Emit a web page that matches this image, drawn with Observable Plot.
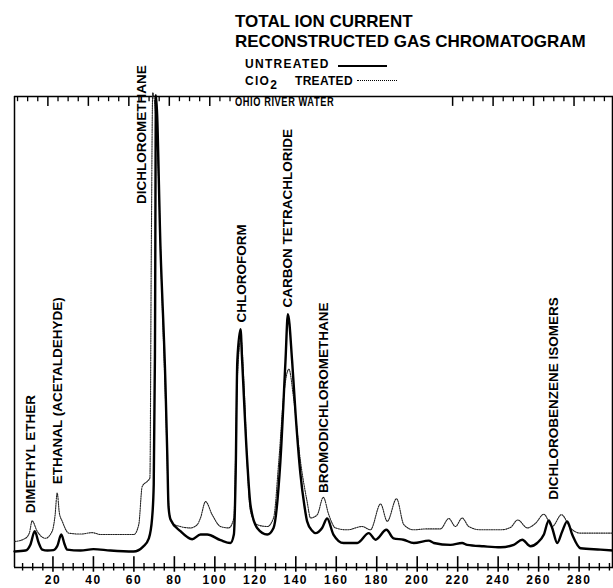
<!DOCTYPE html>
<html><head><meta charset="utf-8">
<script src="https://cdn.jsdelivr.net/npm/d3@7"></script>
<script src="https://cdn.jsdelivr.net/npm/@observablehq/plot@0.6"></script>
<style>
html,body{margin:0;padding:0;background:#fff;}
#wrap{position:relative;width:613px;height:588px;overflow:hidden;font-family:"Liberation Sans",Arial,sans-serif;font-weight:bold;color:#000;}
#wrap svg{position:absolute;left:0;top:0;}
.t{position:absolute;white-space:nowrap;line-height:1;z-index:2;}
.sw{position:absolute;z-index:2;}
.xt text{letter-spacing:1.5px;}
</style></head>
<body>
<div id="wrap"></div>
<script>
// ---- data (scan number vs. total ion current, % of full scale) ----
const untreatedScan   = [1,6.4,8.9,11.0,12.9,14.7,17.3,20.3,22.2,24.1,25.7,27.0,33.6,40.0,48.4,59.8,64.7,67.4,69.0,69.8,70.4,70.9,73.2,75.6,76.5,77.1,78.1,83.0,88.8,92.9,96.2,102.8,107.7,109.4,110.3,111.1,112.7,113.5,116.0,117.6,120.9,125.9,129.0,132.4,134.9,136.1,138.2,139.9,142.3,144.3,145.6,148.1,149.7,153.0,155.5,158.6,163.6,170.4,176.1,179.4,184.8,188.3,193.2,198.3,205.7,208.2,216.5,222.2,224.7,232.9,241.2,247.7,251.9,256.0,259.3,262.6,265.0,266.7,269.2,271.7,274.1,276.6,280.7,290.6,297];
const untreatedSignal = [3.4,3.6,4.9,7.7,5.3,3.8,3.6,3.7,4.6,7.0,5.0,3.8,3.6,3.9,3.6,3.4,4.5,6.2,10.5,17.6,45,100.3,67,38.9,24,13,10.2,7.7,6.0,7.0,7.0,5.8,5.2,7.0,20,43.8,50.6,43.8,22.6,13.3,8.4,7.0,8.4,22.6,43.8,53.8,43.8,32.6,19.8,13,9.8,7.8,7.3,8.4,10.4,7.0,5.2,5.2,7.3,5.9,8.0,6.2,5.9,5.2,5.7,5.2,4.8,5.2,4.8,4.5,4.3,4.8,5.9,4.5,5.2,7.0,10.0,8.4,5.2,7.7,9.8,7.0,4.1,3.8,3.6];

const treatedScan   = [1,6.4,8.4,9.7,12.2,16.3,19.6,21.0,22.1,23.2,24.6,27.8,33.6,39.4,43.5,60.0,62.4,64.1,66.6,67.9,68.6,69.3,71.5,74.0,75.8,77.0,77.8,78.9,83.0,88.0,91.3,92.9,95.4,98.7,102.8,106.9,109.4,111.1,112.9,114.5,116.0,117.6,120.9,125.9,129.0,131.6,134.1,136.6,138.9,142.3,145.6,147.3,150.6,153.6,156.3,159.6,165.4,172.8,176.9,181.9,185.2,189.8,193.4,198.3,204.9,211.5,215.6,218.9,222.2,225.5,231.3,241.2,246.1,249.7,254.4,258.5,262.6,266.7,271.3,275.7,280.7,297];
const treatedSignal = [5.5,6.2,7.4,9.9,7.7,6.2,7.7,10.9,15.8,11.5,9.8,7.3,7.1,7.4,7.0,7.0,9.1,17.2,18.3,19.0,67,100.8,90,56,33,15,10.8,9.4,8.7,8.4,9.1,10.5,14.0,11.2,8.7,8.4,10.5,40,48.5,38,22,12,9.1,8.7,10.5,22.6,36.8,42.1,36.0,22.6,14.0,10.5,11.2,14.9,11.2,8.4,8.0,8.7,8.0,13.5,9.8,14.6,9.1,8.0,8.2,8.2,10.4,8.7,10.5,8.7,8.0,8.0,8.5,10.1,8.4,9.4,11.3,8.7,11.2,8.4,7.3,7.3];

const peakNames  = ["DIMETHYL ETHER","ETHANAL (ACETALDEHYDE)","DICHLOROMETHANE","CHLOROFORM","CARBON TETRACHLORIDE","BROMODICHLOROMETHANE","DICHLOROBENZENE ISOMERS"];
const peakScan   = [8.9,22.1,63.6,113.5,135.8,153.8,267.5];
const peakLabelY = [11.5,17.7,77.2,52.0,55.2,15.8,14.4];

const tickLabels = [20,40,60,80,100,120,140,160,180,200,220,240,260,280];
const minorStep = 5;
const topRulerShift = -2.5;

// ---- tables built from the arrays ----
const untreated = untreatedScan.map((s,i)=>({scan:s, signal:untreatedSignal[i]}));
const treated   = treatedScan.map((s,i)=>({scan:s, signal:treatedSignal[i]}));
const peaks     = peakNames.map((n,i)=>({name:n, scan:peakScan[i], y:peakLabelY[i]}));

const xMin = 1, xMax = 297;
const allTicks = d3.range(minorStep, xMax, minorStep);
const minorTicks = allTicks.filter(t => !tickLabels.includes(t));
const inTopRuler = t => (t >= xMin && t <= 110.5) || (t >= 216 && t <= xMax);
const topMajor = tickLabels.map(t=>t+topRulerShift).filter(inTopRuler);
const topMinor = minorTicks.map(t=>t+topRulerShift).filter(inTopRuler);

const chart = Plot.plot({
  width: 613, height: 588,
  marginLeft: 14, marginRight: 0, marginTop: 96, marginBottom: 21,
  x: {domain: [xMin, xMax]},
  y: {domain: [0, 100], axis: null},
  style: {fontFamily: "'Liberation Sans', Arial, sans-serif", background: "transparent", overflow: "visible", color: "#000"},
  marks: [
    // frame pieces
    Plot.ruleY([0], {stroke: "#000", strokeWidth: 1.6}),
    Plot.ruleY([100], {stroke: "#000", strokeWidth: 1.5}),
    Plot.ruleX([xMin], {y1: 0, y2: 100, stroke: "#000", strokeWidth: 1.5}),
    Plot.ruleX([296.5], {y1: 0, y2: 100, stroke: "#000", strokeWidth: 1.5}),
    // bottom ruler ticks (crossing the axis line)
    Plot.ruleX(tickLabels, {y1: -1.0, y2: 2.3, stroke: "#000", strokeWidth: 1.6}),
    Plot.ruleX(minorTicks, {y1: -0.75, y2: 0.85, stroke: "#000", strokeWidth: 1.4}),
    // top ruler ticks (hanging down)
    Plot.ruleX(topMajor, {y1: 97.9, y2: 100, stroke: "#000", strokeWidth: 1.5}),
    Plot.ruleX(topMinor, {y1: 98.9, y2: 100, stroke: "#000", strokeWidth: 1.3}),
    Plot.axisX(tickLabels, {anchor: "bottom", tickSize: 0, tickPadding: 8, fontSize: 12, fontWeight: "bold", className: "xt", label: null}),
    // chromatogram traces
    Plot.line(treated, {x: "scan", y: "signal", curve: "monotone-x", stroke: "#222", strokeWidth: 1.1, strokeDasharray: "1.3 1.1"}),
    Plot.line(untreated, {x: "scan", y: "signal", curve: "monotone-x", stroke: "#000", strokeWidth: 2.4}),
    // peak labels
    Plot.text(peaks, {x: "scan", y: "y", text: "name", rotate: -90, textAnchor: "start", lineAnchor: "middle", fontSize: 13.5, fontWeight: "bold", fill: "#000"})
  ]
});

const wrap = document.getElementById("wrap");
wrap.appendChild(chart);
const overlay = `
<div class="t" style="left:235px;top:12.6px;font-size:17px;">TOTAL ION CURRENT</div>
<div class="t" style="left:235px;top:32.6px;font-size:17px;">RECONSTRUCTED GAS CHROMATOGRAM</div>
<div class="t" style="left:245px;top:58.1px;font-size:12px;letter-spacing:1.3px;">UNTREATED</div>
<div class="sw" style="left:338px;top:65px;width:49px;height:0;border-top:2px solid #000;"></div>
<div class="t" style="left:245px;top:74.8px;font-size:12px;letter-spacing:1.3px;">ClO<span style="position:relative;top:4px;">2</span></div>
<div class="t" style="left:295px;top:74.8px;font-size:12px;letter-spacing:0.3px;">TREATED</div>
<div class="sw" style="left:357px;top:80px;width:40px;height:0;border-top:1px dotted #000;"></div>
<div class="t" style="left:235px;top:95.8px;font-size:12.5px;letter-spacing:0.8px;transform:scaleX(0.74);transform-origin:0 0;">OHIO RIVER WATER</div>`;
wrap.insertAdjacentHTML("beforeend", overlay);
</script>
</body></html>
